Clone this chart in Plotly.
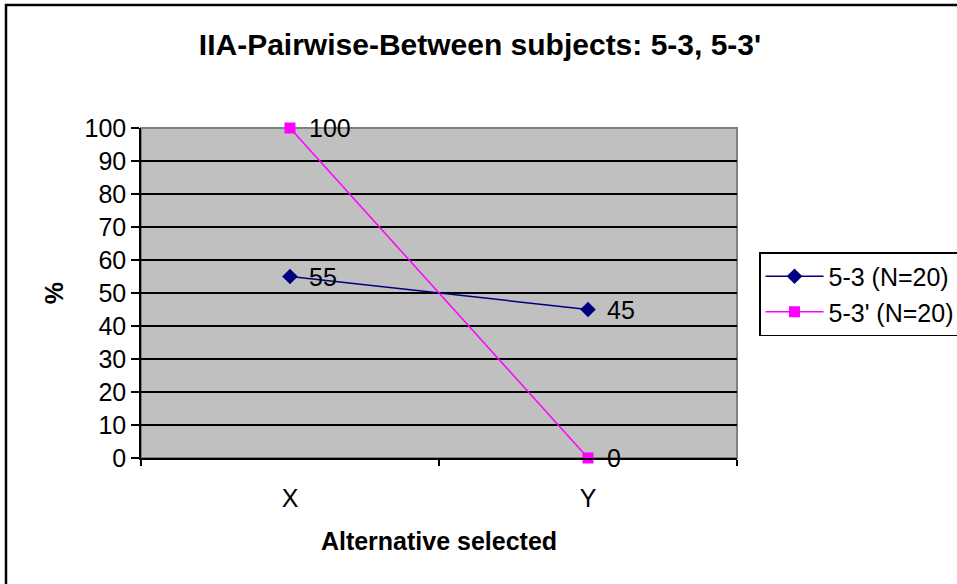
import plotly.graph_objects as go

categories = ["X", "Y"]
series_a_name = "5-3 (N=20)"
series_a = [55, 45]
series_b_name = "5-3' (N=20)"
series_b = [100, 0]
y_ticks = [0, 10, 20, 30, 40, 50, 60, 70, 80, 90, 100]

FONT = "Liberation Sans, Arial, sans-serif"
FS = 25
W, H = 957, 584
L, R, T, B = 141, 737, 128, 458  # plot area pixel bounds

def px_x(p):
    return (p - L) / (R - L)

def px_y(p):
    return (B - p) / (B - T)

fig = go.Figure()
fig.add_trace(go.Scatter(
    x=categories, y=series_a, name=series_a_name, mode="lines+markers",
    line=dict(color="#000080", width=1.5), cliponaxis=False,
    marker=dict(symbol="diamond", size=12, color="#000080"),
))
fig.add_trace(go.Scatter(
    x=categories, y=series_b, name=series_b_name, mode="lines+markers",
    line=dict(color="#FF00FF", width=1.5), cliponaxis=False,
    marker=dict(symbol="square", size=11, color="#FF00FF"),
))

annotations = []
for vals in (series_a, series_b):
    for c, v in zip(categories, vals):
        annotations.append(dict(
            x=c, y=v, xref="x", yref="y", text=str(v), showarrow=False,
            xanchor="left", yanchor="middle", xshift=17,
            font=dict(family=FONT, size=FS, color="black"),
        ))

shapes = [
    dict(type="rect", xref="paper", yref="paper", x0=0, x1=1, y0=0, y1=1,
         line=dict(color="#808080", width=2), layer="between"),
    dict(type="rect", xref="paper", yref="paper",
         x0=px_x(6), x1=px_x(975), y0=px_y(600), y1=px_y(5),
         line=dict(color="black", width=2.5), layer="above"),
]

fig.update_layout(
    width=W, height=H,
    margin=dict(l=L, r=W - R, t=T, b=H - B, pad=0, autoexpand=False),
    paper_bgcolor="white", plot_bgcolor="#C0C0C0",
    font=dict(family=FONT, size=FS, color="black"),
    title=dict(text="<b>IIA-Pairwise-Between subjects: 5-3, 5-3'</b>",
               x=px_x(480), xanchor="center", xref="paper",
               y=1 - 44 / H, yanchor="middle", yref="container",
               font=dict(family=FONT, size=30, color="black")),
    showlegend=True,
    legend=dict(x=px_x(759), y=px_y(252), xanchor="left", yanchor="top",
                bordercolor="black", borderwidth=1.5, bgcolor="white",
                font=dict(family=FONT, size=FS, color="black"),
                tracegroupgap=0, itemwidth=58),
    annotations=annotations,
    shapes=shapes,
)

fig.update_xaxes(
    type="category", range=[-0.5, 1.5], tickson="boundaries",
    showgrid=False, showline=True, linecolor="black", linewidth=1.5,
    ticks="outside", ticklen=6, tickcolor="black", tickwidth=1.5,
    ticklabelstandoff=17,
    tickfont=dict(family=FONT, size=FS, color="black"),
    title=dict(text="<b>Alternative selected</b>", standoff=22,
               font=dict(family=FONT, size=FS, color="black")),
    zeroline=False,
)
fig.update_yaxes(
    range=[0, 100], tickvals=y_ticks, ticktext=[str(t) for t in y_ticks],
    showgrid=True, gridcolor="black", gridwidth=1.5,
    showline=True, linecolor="black", linewidth=1.5,
    ticks="outside", ticklen=8, tickcolor="black", tickwidth=1.5,
    tickfont=dict(family=FONT, size=FS, color="black"),
    title=dict(text="<b>%</b>", standoff=14,
               font=dict(family=FONT, size=FS, color="black")),
    zeroline=False,
)

fig.write_html("out.html")
